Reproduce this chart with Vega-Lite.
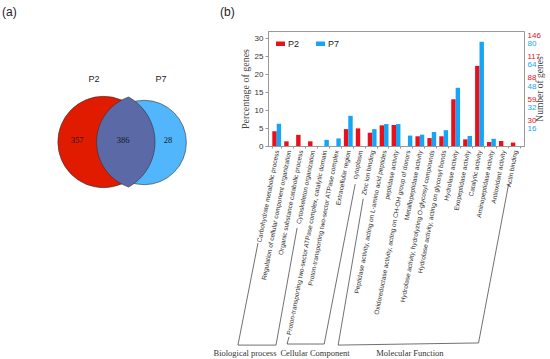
{
  "$schema": "https://vega.github.io/schema/vega-lite/v6.json",
  "padding": {"left": 2, "top": 6, "right": 2, "bottom": 2},
  "width": 256,
  "height": 115,
  "config": {"view": {"stroke": "#999"}, "font": "Liberation Sans"},
  "layer": [
    {
      "data": {"values": [
        {"cat": "Carbohydrate metabolic process", "series": "P2", "pct": 4.1},
        {"cat": "Carbohydrate metabolic process", "series": "P7", "pct": 6.2},
        {"cat": "Regulation of cellular component organization", "series": "P2", "pct": 1.3},
        {"cat": "Regulation of cellular component organization", "series": "P7", "pct": 0},
        {"cat": "Organic substance catabolic process", "series": "P2", "pct": 3.1},
        {"cat": "Organic substance catabolic process", "series": "P7", "pct": 0},
        {"cat": "Cytoskeleton organization", "series": "P2", "pct": 1.3},
        {"cat": "Cytoskeleton organization", "series": "P7", "pct": 0},
        {"cat": "Proton-transporting two-sector ATPase complex, catalytic domain", "series": "P2", "pct": 0},
        {"cat": "Proton-transporting two-sector ATPase complex, catalytic domain", "series": "P7", "pct": 1.7},
        {"cat": "Proton-transporting two-sector ATPase complex", "series": "P2", "pct": 0},
        {"cat": "Proton-transporting two-sector ATPase complex", "series": "P7", "pct": 2.1},
        {"cat": "Extracellular region", "series": "P2", "pct": 4.7},
        {"cat": "Extracellular region", "series": "P7", "pct": 8.4},
        {"cat": "cytoplasm", "series": "P2", "pct": 4.9},
        {"cat": "cytoplasm", "series": "P7", "pct": 0},
        {"cat": "Zinc ion binding", "series": "P2", "pct": 3.7},
        {"cat": "Zinc ion binding", "series": "P7", "pct": 4.7},
        {"cat": "Peptidase activity, acting on L-amino acid peptides", "series": "P2", "pct": 5.75},
        {"cat": "Peptidase activity, acting on L-amino acid peptides", "series": "P7", "pct": 6.1},
        {"cat": "peptidase activity", "series": "P2", "pct": 5.85},
        {"cat": "peptidase activity", "series": "P7", "pct": 6.1},
        {"cat": "Oxidoreductase activity, acting on CH-OH group of donors", "series": "P2", "pct": 0},
        {"cat": "Oxidoreductase activity, acting on CH-OH group of donors", "series": "P7", "pct": 2.9},
        {"cat": "Metallopeptidase activity", "series": "P2", "pct": 2.7},
        {"cat": "Metallopeptidase activity", "series": "P7", "pct": 3.15},
        {"cat": "Hydrolase activity, hydrolyzing O-glycosyl compounds", "series": "P2", "pct": 2.2},
        {"cat": "Hydrolase activity, hydrolyzing O-glycosyl compounds", "series": "P7", "pct": 3.9},
        {"cat": "Hydrolase activity, acting on glycosyl bonds", "series": "P2", "pct": 2.7},
        {"cat": "Hydrolase activity, acting on glycosyl bonds", "series": "P7", "pct": 4.4},
        {"cat": "Hydrolase activity", "series": "P2", "pct": 13.0},
        {"cat": "Hydrolase activity", "series": "P7", "pct": 16.2},
        {"cat": "Exopeptidase activity", "series": "P2", "pct": 1.85},
        {"cat": "Exopeptidase activity", "series": "P7", "pct": 2.8},
        {"cat": "Catalytic activity", "series": "P2", "pct": 22.3},
        {"cat": "Catalytic activity", "series": "P7", "pct": 29.0},
        {"cat": "Aminopeptidase activity", "series": "P2", "pct": 1.1},
        {"cat": "Aminopeptidase activity", "series": "P7", "pct": 2.0},
        {"cat": "Antioxidant activity", "series": "P2", "pct": 1.4},
        {"cat": "Antioxidant activity", "series": "P7", "pct": 0},
        {"cat": "Actin binding", "series": "P2", "pct": 0.95},
        {"cat": "Actin binding", "series": "P7", "pct": 0}
      ]},
      "mark": {"type": "bar"},
      "encoding": {
        "x": {"field": "cat", "type": "nominal", "sort": null,
          "scale": {"paddingInner": 0.26, "paddingOuter": 0.36},
          "axis": {"title": null, "labelAngle": -79, "labelFontSize": 6.5, "labelLimit": 300, "labelColor": "#333", "labelPadding": 2, "domainColor": "#999", "tickColor": "#999", "tickSize": 2, "tickBand": "extent"}},
        "xOffset": {"field": "series", "type": "nominal", "scale": {"paddingInner": 0, "paddingOuter": 0}},
        "y": {"field": "pct", "type": "quantitative", "scale": {"domain": [0, 32], "nice": false},
          "axis": {"orient": "left", "values": [0, 5, 10, 15, 20, 25, 30], "title": "Percentage of genes", "titleFont": "Liberation Serif", "titleFontSize": 10, "titleFontWeight": "normal", "titleColor": "#444", "titlePadding": 4, "labelFontSize": 8, "labelColor": "#333", "grid": false, "domainColor": "#999", "tickColor": "#999", "tickSize": 3}},
        "color": {"field": "series", "type": "nominal", "scale": {"domain": ["P2", "P7"], "range": ["#e8101a", "#14a6f5"]},
          "legend": {"title": null, "orient": "top-left", "direction": "horizontal", "offset": 8, "symbolType": "M-1,-0.5H1V0.5H-1Z", "symbolSize": 81, "symbolStrokeWidth": 0, "labelFontSize": 9, "labelColor": "#222", "columnPadding": 16, "labelOffset": 3}}
      }
    },
    {
      "data": {"values": [{}]},
      "mark": {"type": "rule", "opacity": 0},
      "encoding": {
        "y": {"datum": 0, "type": "quantitative", "scale": {"domain": [0, 157.8], "nice": false},
          "axis": {"orient": "right", "values": [30, 59, 88, 117, 146], "labelColor": "#e8101a", "labelFontSize": 8, "labelOffset": -4, "ticks": false, "domain": false, "labelPadding": 3, "grid": false, "title": "Number of genes", "titleAngle": 270, "titleFont": "Liberation Serif", "titleFontSize": 9.5, "titleFontWeight": "normal", "titleColor": "#444", "titlePadding": 4}}
      }
    },
    {
      "data": {"values": [{}]},
      "mark": {"type": "rule", "opacity": 0},
      "encoding": {
        "y": {"datum": 0, "type": "quantitative", "scale": {"domain": [0, 86.5], "nice": false},
          "axis": {"orient": "right", "values": [16, 32, 48, 64, 80], "labelColor": "#14a6f5", "labelFontSize": 8, "labelOffset": 4, "ticks": false, "domain": false, "labelPadding": 3, "grid": false, "title": null}}
      }
    },
    {
      "data": {"values": [
        {"grp": "Biological process", "ord": 1, "x": -1.57, "y": -27.0},
        {"grp": "Biological process", "ord": 2, "x": -3.25, "y": -55.4},
        {"grp": "Biological process", "ord": 3, "x": -0.06, "y": -55.4},
        {"grp": "Biological process", "ord": 4, "x": 1.71, "y": -22.8},
        {"grp": "Cellular Component", "ord": 1, "x": 1.03, "y": -53.1},
        {"grp": "Cellular Component", "ord": 2, "x": 0.87, "y": -55.1},
        {"grp": "Cellular Component", "ord": 3, "x": 3.98, "y": -55.1},
        {"grp": "Cellular Component", "ord": 4, "x": 6.58, "y": -10.6},
        {"grp": "Molecular Function", "ord": 1, "x": 7.25, "y": -14.7},
        {"grp": "Molecular Function", "ord": 2, "x": 5.15, "y": -55.4},
        {"grp": "Molecular Function", "ord": 3, "x": 16.92, "y": -54.8},
        {"grp": "Molecular Function", "ord": 4, "x": 19.44, "y": -10.6}
      ]},
      "mark": {"type": "line", "stroke": "#333", "strokeWidth": 0.7},
      "encoding": {
        "x": {"field": "x", "type": "quantitative", "scale": {"domain": [-0.73, 20.73], "nice": false, "zero": false}, "axis": null},
        "y": {"field": "y", "type": "quantitative", "scale": {"domain": [0, 32], "nice": false, "zero": false}, "axis": null},
        "detail": {"field": "grp"},
        "order": {"field": "ord"}
      }
    },
    {
      "data": {"values": [
        {"g": "Biological process", "x": -2.66, "y": -57.6},
        {"g": "Cellular Component", "x": 3.21, "y": -57.6},
        {"g": "Molecular Function", "x": 11.17, "y": -57.6}
      ]},
      "mark": {"type": "text", "font": "Liberation Serif", "fontSize": 8.5, "color": "#333", "baseline": "middle"},
      "encoding": {
        "x": {"field": "x", "type": "quantitative", "scale": {"domain": [-0.73, 20.73], "nice": false, "zero": false}, "axis": null},
        "y": {"field": "y", "type": "quantitative", "scale": {"domain": [0, 32], "nice": false, "zero": false}, "axis": null},
        "text": {"field": "g"}
      }
    },
    {
      "data": {"values": [
        {"item": "P2", "x": 5.075, "y": 5.45},
        {"item": "P7", "x": 7.11, "y": 5.425},
        {"item": "both", "x": 6.33, "y": 5.45}
      ]},
      "encoding": {
        "x": {"field": "x", "type": "quantitative", "scale": {"domain": [13.3, 26.1], "nice": false, "zero": false}, "axis": null},
        "y": {"field": "y", "type": "quantitative", "scale": {"domain": [5.25, 11], "nice": false, "zero": false}, "axis": null}
      },
      "layer": [
        {"transform": [{"filter": "datum.item == 'P2'"}], "mark": {"type": "point", "shape": "circle", "filled": true, "size": 8332, "fill": "#e01b00", "stroke": "#333", "strokeWidth": 0.6, "opacity": 1}},
        {"transform": [{"filter": "datum.item == 'P7'"}], "mark": {"type": "point", "shape": "circle", "filled": true, "size": 7118, "fill": "#51b6fb", "stroke": "#333", "strokeWidth": 0.6, "opacity": 1}},
        {"transform": [{"filter": "datum.item == 'both'"}], "mark": {"type": "point", "shape": "M0,-0.9C-0.384,-0.767,-0.64,-0.406,-0.64,0C-0.64,0.406,-0.384,0.767,0,0.9C0.326,0.718,0.528,0.373,0.528,0C0.528,-0.373,0.326,-0.718,0,-0.9Z", "filled": true, "size": 10000, "fill": "#5b69a7", "stroke": "#333", "strokeWidth": 0.6, "opacity": 1}}
      ]
    },
    {
      "data": {"values": [
        {"t": "P2", "x": 4.6, "y": 8.6},
        {"t": "P7", "x": 7.95, "y": 8.6}
      ]},
      "mark": {"type": "text", "font": "Liberation Sans", "fontSize": 9, "color": "#222", "baseline": "middle"},
      "encoding": {
        "x": {"field": "x", "type": "quantitative", "scale": {"domain": [13.3, 26.1], "nice": false, "zero": false}, "axis": null},
        "y": {"field": "y", "type": "quantitative", "scale": {"domain": [5.25, 11], "nice": false, "zero": false}, "axis": null},
        "text": {"field": "t"}
      }
    },
    {
      "data": {"values": [
        {"t": "357", "x": 3.75, "y": 5.55},
        {"t": "386", "x": 6.05, "y": 5.55},
        {"t": "28", "x": 8.3, "y": 5.55}
      ]},
      "mark": {"type": "text", "font": "Liberation Serif", "fontSize": 8.5, "color": "#1a1a1a", "baseline": "middle"},
      "encoding": {
        "x": {"field": "x", "type": "quantitative", "scale": {"domain": [13.3, 26.1], "nice": false, "zero": false}, "axis": null},
        "y": {"field": "y", "type": "quantitative", "scale": {"domain": [5.25, 11], "nice": false, "zero": false}, "axis": null},
        "text": {"field": "t"}
      }
    },
    {
      "data": {"values": [
        {"t": "(a)", "x": 0, "y": 12.2},
        {"t": "(b)", "x": 10.9, "y": 12.2}
      ]},
      "mark": {"type": "text", "font": "Liberation Sans", "fontSize": 12, "color": "#222", "baseline": "top", "align": "left"},
      "encoding": {
        "x": {"field": "x", "type": "quantitative", "scale": {"domain": [13.3, 26.1], "nice": false, "zero": false}, "axis": null},
        "y": {"field": "y", "type": "quantitative", "scale": {"domain": [5.25, 11], "nice": false, "zero": false}, "axis": null},
        "text": {"field": "t"}
      }
    }
  ],
  "resolve": {"scale": {"x": "independent", "y": "independent"}, "axis": {"x": "independent", "y": "independent"}}
}
